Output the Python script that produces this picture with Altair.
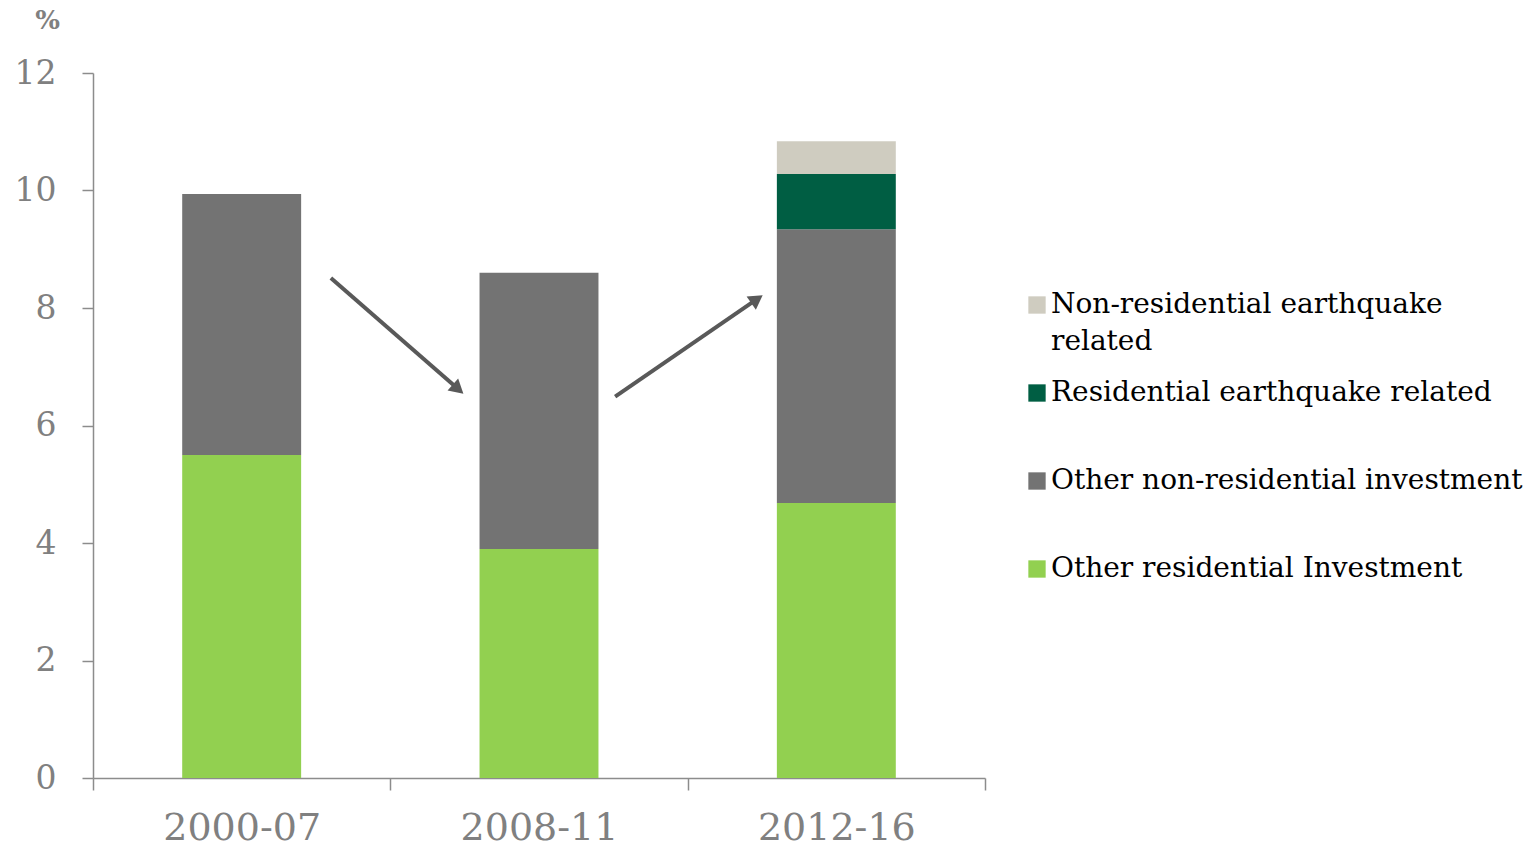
import altair as alt
import pandas as pd

# ---- data ----
periods = ["2000-07", "2008-11", "2012-16"]
other_residential = [5.50, 3.90, 4.68]
other_nonresidential = [4.44, 4.70, 4.66]
residential_eq = [0.0, 0.0, 0.94]
nonresidential_eq = [0.0, 0.0, 0.56]

series_names = [
    "Non-residential earthquake related",
    "Residential earthquake related",
    "Other non-residential investment",
    "Other residential Investment",
]
series_colors = ["#CFCCC0", "#005E43", "#737373", "#92D050"]

# arrows (x in category units 0..3, y in %)
arrow_x_start = [0.80, 1.756]
arrow_y_start = [8.51, 6.49]
arrow_x_end = [1.228, 2.233]
arrow_y_end = [6.62, 8.15]
arrow_angle = [131, 55]

rows = []
stack_values = {
    "Other residential Investment": other_residential,
    "Other non-residential investment": other_nonresidential,
    "Residential earthquake related": residential_eq,
    "Non-residential earthquake related": nonresidential_eq,
}
stack_order = list(stack_values.keys())
for s, vals in stack_values.items():
    for p, v in zip(periods, vals):
        rows.append({"period": p, "series": s, "value": v, "ord": stack_order.index(s)})
df = pd.DataFrame(rows)

arrows = pd.DataFrame({
    "x": arrow_x_start, "y": arrow_y_start,
    "x2": arrow_x_end, "y2": arrow_y_end, "angle": arrow_angle,
})

FONT = "DejaVu Serif"
AXIS_GREY = "#8C8C8C"
LABEL_GREY = "#808080"

y_scale = alt.Scale(domain=[0, 12])
y_axis = alt.Axis(values=[0, 2, 4, 6, 8, 10, 12], title="%", titleAngle=0,
                  titleX=-46, titleY=-53, titleAlign="center",
                  titleBaseline="middle", titleFontSize=26, titleFont=FONT,
                  titleColor=LABEL_GREY, titleFontWeight="bold",
                  labelFontSize=33, labelFont=FONT, labelColor=LABEL_GREY,
                  labelPadding=26, tickSize=11, grid=False,
                  domainColor=AXIS_GREY, tickColor=AXIS_GREY,
                  domainWidth=1.5, tickWidth=1.5)

bars = alt.Chart(df).mark_bar(width=alt.RelativeBandSize(0.4)).encode(
    x=alt.X("period:N", sort=periods,
            scale=alt.Scale(paddingInner=0, paddingOuter=0),
            axis=alt.Axis(title=None, labelAngle=0, tickBand="extent",
                          labelFontSize=38, labelFont=FONT, labelColor=LABEL_GREY,
                          labelPadding=19, tickSize=12, domainColor=AXIS_GREY,
                          tickColor=AXIS_GREY, domainWidth=1.5, tickWidth=1.5)),
    y=alt.Y("value:Q", stack="zero", scale=y_scale, axis=y_axis),
    color=alt.Color("series:N",
                    scale=alt.Scale(domain=series_names, range=series_colors),
                    legend=alt.Legend(
                        title=None, orient="none", legendX=930, legendY=218,
                        symbolType="square", symbolSize=300, symbolStrokeWidth=0,
                        labelFont=FONT, labelFontSize=28, labelColor="#000000",
                        labelLimit=700, rowPadding=23, labelOffset=0,
                        gridAlign="all",
                        labelExpr="datum.label == 'Non-residential earthquake related' ? ['Non-residential earthquake', 'related'] : datum.label",
                    )),
    order=alt.Order("ord:Q", sort="ascending"),
)

arrow_lines = alt.Chart(arrows).mark_rule(color="#595959", strokeWidth=4).encode(
    x=alt.X("x:Q", scale=alt.Scale(domain=[0, 3]), axis=None),
    x2="x2:Q",
    y=alt.Y("y:Q", scale=y_scale, axis=y_axis),
    y2="y2:Q",
)
arrow_heads = alt.Chart(arrows).mark_point(shape="triangle-up", filled=True,
                                           color="#595959", size=260, opacity=1).encode(
    x=alt.X("x2:Q", scale=alt.Scale(domain=[0, 3]), axis=None),
    y=alt.Y("y2:Q", scale=y_scale, axis=y_axis),
    angle=alt.Angle("angle:Q", scale=None),
)

chart = alt.layer(bars, arrow_lines, arrow_heads).resolve_scale(
    x="independent"
).properties(
    width=892, height=705,
    autosize=alt.AutoSizeParams(type="none"),
    padding={"left": 93, "top": 73, "right": 551, "bottom": 72},
    background="white",
).configure(
    view=alt.ViewConfig(stroke=None),
    style={"guide-label": {"lineHeight": 37}},
)

chart.save("out.html", embed_options={"renderer": "svg", "actions": False})
